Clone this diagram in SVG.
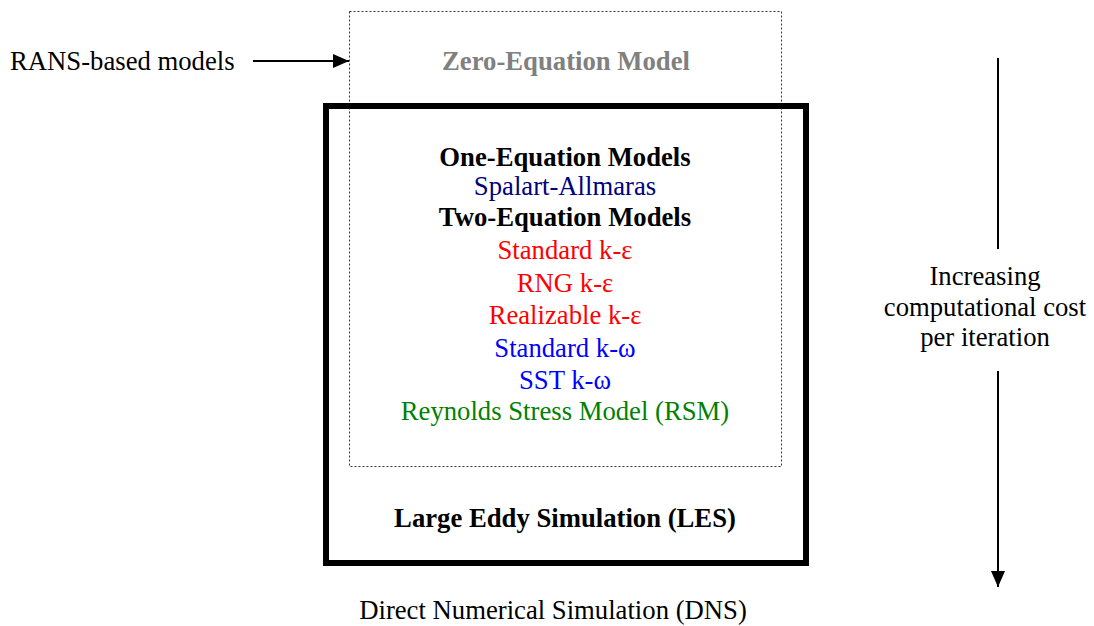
<svg xmlns="http://www.w3.org/2000/svg" width="1094" height="626" viewBox="0 0 1094 626">
  <style>
    text { font-family: "Liberation Serif", "Times New Roman", serif; font-size: 26.7px; }
    .c { text-anchor: middle; }
    .b { font-weight: bold; }
    .line { stroke: #000; stroke-width: 2; fill: none; }
  </style>
  <defs>
    <marker id="arrow" viewBox="0 0 16 14" refX="16" refY="7" markerWidth="16" markerHeight="14" markerUnits="userSpaceOnUse" orient="auto">
      <path d="M0,0 L16,7 L0,14 Z" fill="#000"/>
    </marker>
  </defs>
  <rect width="1094" height="626" fill="#fff"/>

  <g id="rans-box">
    <rect x="349.5" y="11.5" width="432" height="455" fill="none" stroke="#333" stroke-width="1" stroke-dasharray="2,2"/>
    <text class="c b" x="566" y="70" fill="#808080">Zero-Equation Model</text>
  </g>

  <g id="les-box">
    <rect x="326" y="106" width="480" height="457" fill="none" stroke="#000" stroke-width="6"/>
    <text class="c b" x="565" y="527" fill="#000">Large Eddy Simulation (LES)</text>
  </g>

  <g id="models">
    <text class="c b" x="565" y="166" fill="#000">One-Equation Models</text>
    <text class="c" x="565" y="195" fill="#000080">Spalart-Allmaras</text>
    <text class="c b" x="565" y="226" fill="#000">Two-Equation Models</text>
    <text class="c" x="565" y="259" fill="#ff0000">Standard k-ε</text>
    <text class="c" x="565" y="292" fill="#ff0000">RNG k-ε</text>
    <text class="c" x="565" y="324" fill="#ff0000">Realizable k-ε</text>
    <text class="c" x="565" y="357" fill="#0000ff">Standard k-ω</text>
    <text class="c" x="565" y="389" fill="#0000ff">SST k-ω</text>
    <text class="c" x="565" y="420" fill="#008000">Reynolds Stress Model (RSM)</text>
  </g>

  <g id="rans-label">
    <text x="10" y="70" fill="#000">RANS-based models</text>
  </g>

  <g id="dns-label">
    <text class="c" x="553" y="619" fill="#000">Direct Numerical Simulation (DNS)</text>
  </g>

  <g id="cost-label">
    <text class="c" x="985" y="285" fill="#000">Increasing</text>
    <text class="c" x="985" y="316" fill="#000">computational cost</text>
    <text class="c" x="985" y="346" fill="#000">per iteration</text>
  </g>

  <g id="connectors">
    <line class="line" x1="253" y1="61" x2="349" y2="61" marker-end="url(#arrow)"/>
    <line class="line" x1="998" y1="58" x2="998" y2="249"/>
    <line class="line" x1="998" y1="371" x2="998" y2="587" marker-end="url(#arrow)"/>
  </g>
</svg>
